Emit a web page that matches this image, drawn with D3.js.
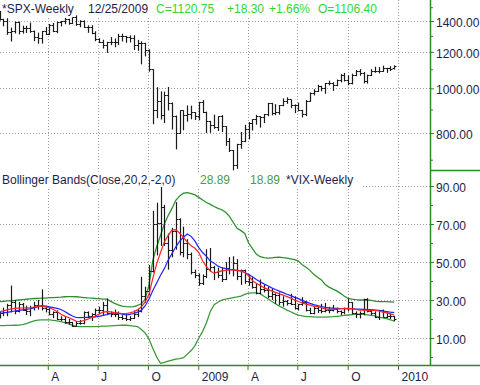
<!DOCTYPE html>
<html><head><meta charset="utf-8">
<script src="https://cdn.jsdelivr.net/npm/d3@7"></script>
<style>
body{margin:0;background:#fff}
svg{display:block;font-family:Arial,"Liberation Sans",sans-serif}
</style>
</head><body>
<svg id="chart" width="480" height="385"></svg>
<script>
// ---------- DATA ----------
// weekly bars, week ending Friday, Jan 4 2008 .. Dec 25 2009
const firstWeek = new Date(2008, 0, 4);
const lastWeekStop = new Date(2009, 11, 26);

const spxOpen = [1468,1414,1402,1325,1331,1395,1331,1350,1353,1331,1293,1288,1330,1315,1370,1333,1390,1398,1414,1388,1425,1376,1400,1361,1360,1318,1278,1263,1239,1261,1258,1260,1296,1298,1292,1283,1242,1252,1255,1213,1099,899,941,877,969,931,873,800,896,876,880,888,
873,932,890,850,832,826,869,827,770,735,683,757,769,816,843,857,870,866,878,929,883,887,919,940,946,921,919,896,879,940,979,987,1010,1004,1026,1029,1016,1043,1068,1044,1025,1071,1088,1080,1036,1069,1093,1091,1091,1106,1106,1106.4];
const spxHigh = [1472,1416,1420,1355,1396,1396,1368,1367,1389,1335,1321,1333,1359,1380,1386,1395,1400,1422,1416,1425,1440,1406,1405,1370,1371,1330,1285,1275,1262,1292,1283,1313,1314,1300,1303,1304,1274,1265,1256,1215,1100,1006,985,984,1007,932,873,896,896,918,917,888,
935,943,890,850,877,870,875,827,780,735,758,804,833,845,857,876,870,880,930,930,924,920,951,956,946,923,931,898,943,980,996,1018,1013,1027,1039,1031,1045,1074,1080,1067,1076,1096,1101,1085,1071,1101,1114,1112,1120,1108,1117,1122];
const spxLow = [1411,1370,1313,1270,1322,1316,1321,1325,1326,1272,1256,1257,1312,1312,1331,1324,1369,1384,1381,1386,1373,1364,1360,1326,1317,1272,1260,1226,1200,1247,1234,1248,1270,1262,1264,1217,1212,1133,1179,1092,840,866,860,845,900,818,741,800,815,851,861,858,
857,888,804,805,821,812,808,754,731,667,672,743,768,779,814,838,826,845,874,878,879,881,919,930,910,888,896,869,875,940,970,987,990,978,1020,992,1016,1035,1040,1020,1025,1068,1070,1030,1029,1069,1086,1083,1091,1086,1096,1104];
const spxClose = [1412,1401,1325,1331,1395,1331,1350,1353,1331,1293,1288,1330,1315,1370,1333,1390,1398,1414,1388,1425,1376,1400,1361,1360,1318,1278,1263,1239,1261,1258,1260,1296,1298,1292,1283,1242,1252,1255,1213,1099,899,941,877,969,931,873,800,896,876,880,888,873,
932,890,850,832,826,869,827,770,735,683,757,769,816,843,857,870,866,878,929,883,887,919,940,946,921,919,896,879,940,979,987,1010,1004,1026,1029,1016,1043,1068,1044,1025,1071,1088,1080,1036,1069,1093,1091,1091,1106,1106,1102,1120.75];

const vixOpen = [22.5,23.2,23.7,27.2,29.0,24.0,28.0,25.0,24.0,26.5,27.5,27.0,26.0,25.5,22.5,23.5,20.2,20.0,18.2,18.3,16.5,18.0,17.8,23.6,21.5,22.5,25.0,24.5,27.5,23.0,22.5,22.6,21.2,20.6,19.8,20.7,22.6,24.1,32.1,34.7,45.1,69.9,70.3,79.1,59.9,56.1,66.3,72.7,55.3,59.9,54.3,44.9,
43.4,39.2,42.8,46.1,47.3,44.8,43.4,41.3,47.1,46.4,49.3,42.4,45.9,40.0,39.7,36.7,33.9,35.7,35.3,32.1,33.1,32.6,28.9,29.6,28.2,28.0,25.9,27.9,29.0,25.0,23.1,25.9,24.7,24.2,25.0,24.8,25.3,24.2,23.9,25.6,28.7,23.1,22.5,23.0,30.7,24.2,23.4,21.2,24.7,21.3,21.6,21.7];
const vixHigh = [24.0,26.0,28.0,37.6,30.0,29.0,28.5,27.0,27.0,29.0,30.0,35.6,27.0,26.0,24.0,24.5,21.5,21.0,20.0,18.5,19.0,19.5,24.0,24.0,23.0,25.5,26.5,29.0,30.8,24.0,25.0,24.0,22.0,22.5,21.5,24.5,25.5,42.2,37.0,48.4,76.9,81.2,89.5,80.1,65.0,68.0,81.5,73.0,68.6,62.0,55.0,46.0,
44.0,43.5,56.7,57.4,48.0,47.0,47.0,50.0,52.6,53.0,51.5,46.0,46.0,43.5,42.0,38.5,40.8,38.0,37.0,36.0,33.5,34.0,32.0,30.0,33.3,32.0,28.0,31.5,29.5,26.0,27.0,26.5,28.0,28.5,26.4,27.4,26.0,24.5,26.0,30.7,28.9,24.0,24.0,30.7,31.0,25.0,24.0,24.7,25.0,23.5,23.0,21.7];
const vixLow = [20.8,22.0,22.0,24.0,23.0,24.0,24.8,22.6,22.0,25.0,25.5,25.0,24.0,22.5,21.0,20.0,19.5,18.0,17.5,16.3,16.5,17.5,17.8,21.0,19.5,21.5,23.0,22.5,23.0,21.5,21.5,20.0,20.0,19.5,19.5,20.5,21.5,24.0,29.0,33.0,45.0,54.0,59.0,59.0,46.5,53.0,57.0,54.0,53.0,52.0,44.0,42.0,
38.0,38.4,42.0,45.5,41.0,42.0,40.0,41.0,44.0,43.0,41.0,38.5,39.0,38.0,36.5,33.5,33.5,34.5,31.5,30.5,28.5,27.8,27.0,27.6,27.8,25.5,25.0,27.5,24.5,23.0,23.0,23.7,23.5,24.0,23.5,24.5,23.5,22.5,23.0,24.5,23.0,21.0,20.8,22.5,24.0,22.5,21.0,20.0,21.3,21.0,20.5,19.3];
const vixClose = [23.2,23.7,27.2,29.0,24.0,28.0,25.0,24.0,26.5,27.5,27.0,26.0,25.5,22.5,23.5,20.2,20.0,18.2,18.3,16.5,18.0,17.8,23.6,21.5,22.5,25.0,24.5,27.5,23.0,22.5,22.6,21.2,20.6,19.8,20.7,22.6,24.1,32.1,34.7,45.1,69.9,70.3,79.1,59.9,56.1,66.3,72.7,55.3,59.9,54.3,44.9,43.4,
39.2,42.8,46.1,47.3,44.8,43.4,41.3,47.1,46.4,49.3,42.4,45.9,40.0,39.7,36.7,33.9,35.7,35.3,32.1,33.1,32.6,28.9,29.6,28.2,28.0,25.9,27.9,29.0,25.0,23.1,25.9,24.7,24.2,25.0,24.8,25.3,24.2,23.9,25.6,28.7,23.1,22.5,23.0,30.7,24.2,23.4,21.2,24.7,21.3,21.6,21.7,20.0];

// Bollinger bands and averages
const bbUpper = [29.1,29.3,29.5,29.6,29.8,30.0,30.2,30.4,30.6,30.8,30.9,31.0,31.0,31.2,31.3,31.4,31.5,31.7,31.8,31.8,31.7,31.5,31.3,31.1,31.0,30.8,30.7,30.5,30.5,29.3,28.2,27.4,26.8,26.5,26.4,26.5,27.2,28.0,30.5,38.0,51.0,58.0,64.0,70.0,74.5,78.2,82.5,84.8,86.2,86.5,86.0,85.3,
84.0,82.6,81.3,80.3,79.2,78.2,77.5,76.2,74.0,70.8,67.7,66.5,65.0,60.0,57.0,54.2,52.8,52.3,52.0,52.2,52.4,52.5,52.3,52.0,51.6,51.2,50.5,48.5,47.2,45.6,43.5,42.0,40.6,38.2,36.8,35.7,34.8,33.5,32.0,30.9,30.5,30.2,30.0,30.0,30.0,29.8,29.4,29.1,29.1,29.1,29.0,28.9];
const bbLower = [16.5,16.5,16.6,16.6,16.7,16.8,17.0,17.6,18.4,19.0,19.4,19.5,19.5,19.5,19.3,19.0,18.6,18.1,17.4,16.8,16.1,16.0,16.0,16.0,16.0,16.0,16.1,16.2,16.3,16.4,16.5,16.6,16.7,16.7,16.5,16.3,16.0,14.5,12.6,9.5,4.5,0.0,-3.3,-2.8,-2.2,-1.6,-1.1,-0.8,-0.4,1.5,3.4,6.0,
10.0,13.5,18.0,24.0,27.5,28.8,30.0,30.4,30.9,31.3,31.6,32.1,33.0,33.6,33.8,33.7,33.3,32.0,30.7,29.3,28.0,26.8,25.8,24.7,23.8,22.8,22.0,21.6,21.3,21.2,21.1,21.0,21.0,21.0,21.1,21.2,21.4,21.6,21.9,22.1,22.3,22.5,22.6,22.5,22.2,21.9,21.6,21.0,20.6,20.2,19.6,18.9];
const avgFast = [23.9,24.3,24.8,25.3,25.6,25.7,25.8,25.9,26.0,26.3,26.7,26.8,26.4,25.9,25.0,23.9,22.5,21.5,20.8,19.8,18.8,18.6,19.2,19.9,20.8,21.5,22.6,23.6,23.9,23.7,23.4,23.1,22.9,22.9,23.2,23.8,24.8,26.4,29.0,33.0,41.5,49.0,55.0,60.5,64.0,66.8,67.0,65.2,63.0,60.5,58.5,57.2,
55.0,50.5,47.5,45.2,44.0,44.8,45.3,45.6,45.8,45.8,45.6,45.3,44.5,42.8,40.2,38.8,37.7,36.5,35.6,34.8,34.0,33.3,32.6,31.8,31.0,30.0,29.2,28.5,27.8,27.3,26.8,26.5,26.0,25.3,25.1,25.1,25.2,25.4,25.6,25.6,25.5,25.0,24.7,24.6,24.5,24.5,24.5,24.2,23.6,23.2,22.7,22.1];
const avgSlow = [22.9,23.2,23.5,23.9,24.2,24.5,24.8,25.1,25.4,25.8,26.5,27.0,26.8,26.4,26.0,25.6,25.0,24.0,22.7,21.6,20.8,20.7,20.8,20.9,21.0,21.1,21.4,21.9,22.3,22.8,23.2,23.0,22.6,22.1,22.4,22.9,23.6,24.6,27.0,30.5,35.0,39.0,43.0,46.5,51.0,54.5,58.0,61.0,63.0,64.7,63.5,61.0,
57.6,55.0,53.0,50.5,49.4,47.8,47.0,46.5,46.1,45.9,45.6,45.3,44.5,43.4,42.2,40.8,39.6,38.5,37.5,36.4,35.5,34.7,33.9,33.0,32.3,31.4,30.7,29.8,29.0,28.2,27.6,27.1,26.6,26.1,25.9,25.7,25.6,25.5,25.4,25.3,25.3,25.2,25.2,25.1,25.0,24.9,24.7,24.5,24.2,23.9,23.6,23.4];

const spxTicks = [800, 1000, 1200, 1400];
const spxMinorTicks = [700, 900, 1100, 1300, 1500];
const vixTicks = [10, 30, 50, 70, 90];
const vixMinorTicks = [0, 20, 40, 60, 80];
const monthLetters = ["A", "J", "O"];

const spxTitle = [
  {t: "*SPX-Weekly", x: 2, c: "#1e1e4a"},
  {t: "12/25/2009", x: 88, c: "#1e1e4a"},
  {t: "C=1120.75", x: 156, c: "#33d633"},
  {t: "+18.30", x: 227, c: "#33d633"},
  {t: "+1.66%", x: 269, c: "#33d633"},
  {t: "O=1106.40", x: 318, c: "#33d633"}
];
const vixTitle = [
  {t: "Bollinger Bands(Close,20,2,-2,0)", x: 2, c: "#1e1e4a"},
  {t: "28.89", x: 200, c: "#4f9a3c"},
  {t: "18.89", x: 250, c: "#4f9a3c"},
  {t: "*VIX-Weekly", x: 286, c: "#1e1e4a"}
];

// ---------- CHART ----------
const weeks = d3.timeFriday.range(firstWeek, lastWeekStop);
const svg = d3.select("#chart");
const axisX = 430, bottomY = 365, panelSplit = 171;
const green = "#2a8a2a", ink = "#1e1e4a", gridColor = "#9a9a9a";

const x = d3.scaleTime().domain([new Date(2008,0,1), new Date(2010,0,1)]).range([-2, 398]);
const ySpx = d3.scaleLog().domain([1400, 800]).range([21, 133]);
const yVix = d3.scaleLinear().domain([0, 90]).range([357, 186]);
const quarters = d3.timeMonth.every(3).range(new Date(2008,3,1), new Date(2010,0,2));

svg.append("rect").attr("width",480).attr("height",385).attr("fill","#fff");

const defs = svg.append("defs");
defs.append("clipPath").attr("id","clipTop").append("rect").attr("x",0).attr("y",0).attr("width",axisX).attr("height",panelSplit);
defs.append("clipPath").attr("id","clipBot").append("rect").attr("x",0).attr("y",panelSplit).attr("width",axisX).attr("height",bottomY-panelSplit);

// gridlines
const gridG = svg.append("g");
gridG.append("g").selectAll("line").data(quarters).join("line")
  .attr("x1", d => Math.round(x(d))+0.5).attr("x2", d => Math.round(x(d))+0.5)
  .attr("y1", 0).attr("y2", bottomY)
  .attr("stroke", gridColor).attr("stroke-dasharray","1,2");
gridG.append("g").selectAll("line").data(spxTicks).join("line")
  .attr("x1", 0).attr("x2", axisX).attr("y1", d => Math.round(ySpx(d))+0.5).attr("y2", d => Math.round(ySpx(d))+0.5)
  .attr("stroke", gridColor).attr("stroke-dasharray","1,2");
gridG.append("g").selectAll("line").data(vixTicks).join("line")
  .attr("x1", 0).attr("x2", axisX).attr("y1", d => Math.round(yVix(d))+0.5).attr("y2", d => Math.round(yVix(d))+0.5)
  .attr("stroke", gridColor).attr("stroke-dasharray","1,2");

// title backgrounds
svg.append("rect").attr("x",0).attr("y",0).attr("width",380).attr("height",17).attr("fill","#fff");
svg.append("rect").attr("x",0).attr("y",panelSplit+1).attr("width",362).attr("height",17).attr("fill","#fff");

// OHLC drawing helper
function ohlc(parent, y, O, H, L, C, color) {
  const bars = parent.selectAll("g").data(weeks).join("g")
    .attr("transform", d => `translate(${Math.round(x(d))+0.5},0)`);
  bars.append("line").attr("y1",(d,i)=>y(H[i])).attr("y2",(d,i)=>y(L[i])+1)
    .attr("stroke", color).attr("stroke-width",1.2);
  bars.append("line").attr("x1",-2).attr("x2",0).attr("y1",(d,i)=>Math.round(y(O[i]))+0.5).attr("y2",(d,i)=>Math.round(y(O[i]))+0.5)
    .attr("stroke", color);
  bars.append("line").attr("x1",0).attr("x2",2).attr("y1",(d,i)=>Math.round(y(C[i]))+0.5).attr("y2",(d,i)=>Math.round(y(C[i]))+0.5)
    .attr("stroke", color);
}

const topPanel = svg.append("g").attr("clip-path","url(#clipTop)");
ohlc(topPanel, ySpx, spxOpen, spxHigh, spxLow, spxClose, "#1a1a1a");

const botPanel = svg.append("g").attr("clip-path","url(#clipBot)");
const lineOf = arr => d3.line().x(d=>x(d)).y((d,i)=>yVix(arr[i]))(weeks);
botPanel.append("path").attr("d", lineOf(bbUpper)).attr("fill","none").attr("stroke","#2e912e").attr("stroke-width",1.3);
botPanel.append("path").attr("d", lineOf(bbLower)).attr("fill","none").attr("stroke","#3a9a3a").attr("stroke-width",1.3);
ohlc(botPanel.append("g"), yVix, vixOpen, vixHigh, vixLow, vixClose, "#1a1a1a");
botPanel.append("path").attr("d", lineOf(avgSlow)).attr("fill","none").attr("stroke","#2222ff").attr("stroke-width",1.2);
botPanel.append("path").attr("d", lineOf(avgFast)).attr("fill","none").attr("stroke","#ff2222").attr("stroke-width",1.2);

// titles
svg.append("g").selectAll("text").data(spxTitle).join("text")
  .attr("x", d => d.x).attr("y", 13).attr("fill", d => d.c).attr("font-size", 12).text(d => d.t);
svg.append("g").selectAll("text").data(vixTitle).join("text")
  .attr("x", d => d.x).attr("y", 184).attr("fill", d => d.c).attr("font-size", 12).text(d => d.t);

// right axes
function styleAxis(sel) {
  sel.select(".domain").remove();
  sel.selectAll(".tick line").attr("stroke", green);
  sel.selectAll(".tick text").attr("fill", ink).attr("font-size", 12).attr("font-family", "Arial, 'Liberation Sans', sans-serif").attr("dy","0.45em");
}
svg.append("g").attr("transform",`translate(${axisX},0)`)
  .call(d3.axisRight(ySpx).tickValues(spxTicks).tickFormat(d3.format(".2f")).tickSize(4).tickPadding(2)).call(styleAxis);
svg.append("g").attr("transform",`translate(${axisX},0)`)
  .call(d3.axisRight(ySpx).tickValues(spxMinorTicks).tickFormat("").tickSize(3)).call(styleAxis);
svg.append("g").attr("transform",`translate(${axisX},0)`)
  .call(d3.axisRight(yVix).tickValues(vixTicks).tickFormat(d3.format(".2f")).tickSize(4).tickPadding(2)).call(styleAxis);
svg.append("g").attr("transform",`translate(${axisX},0)`)
  .call(d3.axisRight(yVix).tickValues(vixMinorTicks).tickFormat("").tickSize(3)).call(styleAxis);

// bottom axis
const xa = svg.append("g").attr("transform",`translate(0,${bottomY})`)
  .call(d3.axisBottom(x).tickValues(quarters).tickSize(5).tickPadding(2)
    .tickFormat(d => d.getMonth() === 0 ? String(d.getFullYear()) : monthLetters[d.getMonth()/3 - 1]));
xa.select(".domain").remove();
xa.selectAll(".tick line").attr("stroke", green);
xa.selectAll(".tick text").attr("fill", ink).attr("font-size",12).attr("text-anchor","start").attr("x",3)
  .attr("font-family","Arial, 'Liberation Sans', sans-serif");

// frame lines
svg.append("line").attr("x1",axisX+0.5).attr("x2",axisX+0.5).attr("y1",0).attr("y2",bottomY).attr("stroke",green).attr("stroke-width",1.5);
svg.append("line").attr("x1",0).attr("x2",480).attr("y1",bottomY+0.5).attr("y2",bottomY+0.5).attr("stroke",green).attr("stroke-width",1.5);
svg.append("line").attr("x1",axisX).attr("x2",480).attr("y1",panelSplit-0.5).attr("y2",panelSplit-0.5).attr("stroke",green).attr("stroke-width",1.5);
</script>
</body></html>
